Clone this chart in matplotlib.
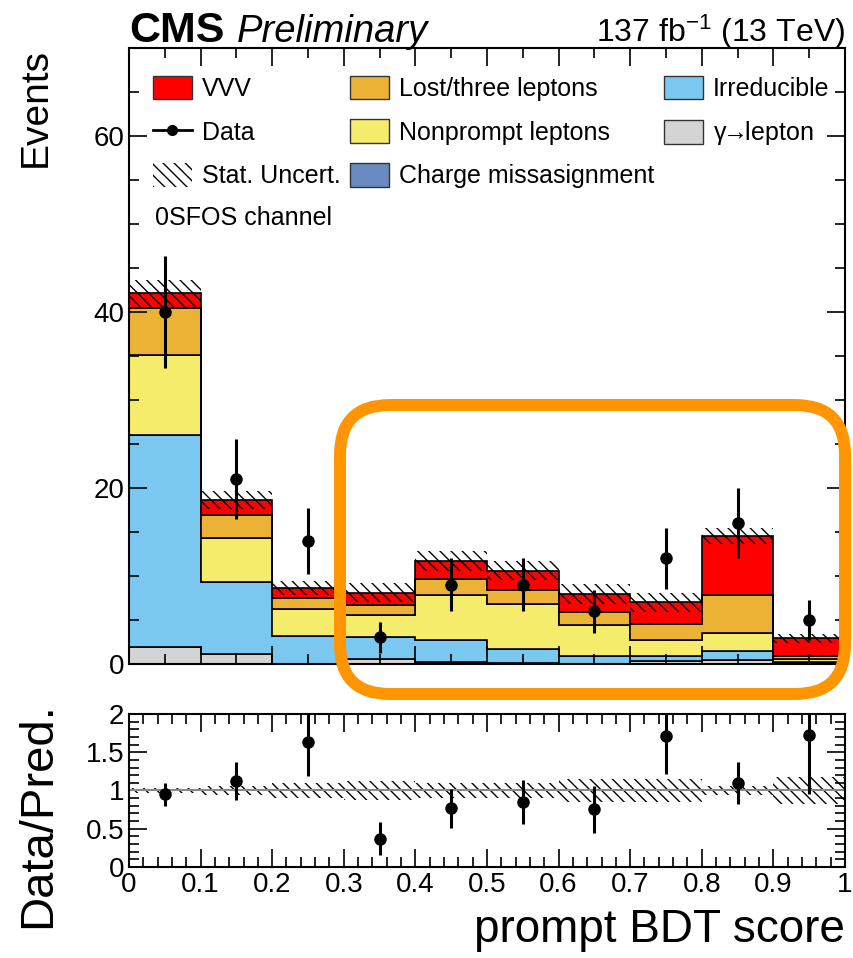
import numpy as np
import matplotlib
matplotlib.use('Agg')
import matplotlib.pyplot as plt
from matplotlib.patches import Patch, FancyBboxPatch
from matplotlib.lines import Line2D
from matplotlib.ticker import MultipleLocator
from matplotlib.transforms import IdentityTransform

plt.rcParams['font.family'] = ['Liberation Sans', 'DejaVu Sans']
plt.rcParams['mathtext.fontset'] = 'custom'
plt.rcParams['mathtext.rm'] = 'Liberation Sans'
plt.rcParams['mathtext.it'] = 'Liberation Sans:italic'
plt.rcParams['hatch.linewidth'] = 1.0

# bins of the prompt BDT score
edges = np.linspace(0, 1, 11)
centers = 0.5 * (edges[1:] + edges[:-1])

# background / signal yields per bin (stack order bottom -> top)
gamma_lep = [1.9, 1.15, 0.0, 0.6, 0.2, 0.1, 0.0, 0.35, 0.45, 0.1]
charge_mis = [0, 0, 0, 0, 0, 0, 0, 0, 0, 0]
irreducible = [24.1, 8.2, 3.15, 2.4, 2.5, 1.6, 0.95, 0.6, 1.05, 0.1]
nonprompt = [9.1, 5.0, 3.1, 2.55, 5.1, 5.05, 3.5, 1.8, 2.05, 0.35]
lost_three = [5.3, 2.6, 1.25, 1.15, 1.9, 1.65, 1.4, 1.75, 4.25, 0.35]
vvv = [1.7, 1.7, 1.1, 1.4, 2.0, 2.2, 2.1, 2.5, 6.75, 2.0]
stat_unc = [1.5, 1.0, 0.8, 1.05, 1.1, 1.1, 1.15, 1.05, 0.9, 0.5]
data = [40, 21, 14, 3, 9, 9, 6, 12, 16, 5]

gam_label = '\u03b3$\\!\\!\\rightarrow\\!\\!$lepton'
stack = [
    (gamma_lep, '#d4d4d4', gam_label),
    (charge_mis, '#698bbf', 'Charge missasignment'),
    (irreducible, '#7ac7f0', 'Irreducible'),
    (nonprompt, '#f5ec6b', 'Nonprompt leptons'),
    (lost_three, '#ebb235', 'Lost/three leptons'),
    (vvv, '#ff0000', 'VVV'),
]

fig = plt.figure(figsize=(8.54, 9.58), dpi=100)
ax = fig.add_axes([0.151, 0.307, 0.8384, 0.643])
rax = fig.add_axes([0.151, 0.095, 0.8384, 0.1597])

bottom = np.zeros(10)
for vals, col, lab in stack:
    top = bottom + np.array(vals)
    ax.stairs(top, edges, baseline=bottom, fill=True, facecolor=col,
              edgecolor='black', linewidth=1.2)
    bottom = top
total = bottom
unc = np.array(stat_unc)

ax.stairs(total + unc, edges, baseline=total - unc, fill=True, facecolor='none',
          edgecolor='black', hatch='\\\\\\', linewidth=0)

data = np.array(data, dtype=float)
derr = np.sqrt(data)
ax.errorbar(centers, data, yerr=derr, fmt='o', color='black', ms=8,
            elinewidth=2.2, capsize=0, zorder=5)

ax.set_xlim(0, 1)
ax.set_ylim(0, 70)
ax.xaxis.set_major_locator(MultipleLocator(0.1))
ax.xaxis.set_minor_locator(MultipleLocator(0.05))
ax.yaxis.set_major_locator(MultipleLocator(20))
ax.yaxis.set_minor_locator(MultipleLocator(5))
ax.tick_params(which='both', direction='in', top=True, right=True, labelsize=20)
ax.tick_params(which='major', length=13, width=1.2)
ax.tick_params(which='minor', length=7, width=1.2)
ax.tick_params(axis='x', labelbottom=False)
for s in ax.spines.values():
    s.set_linewidth(1.5)

# legend, filled row by row like the original
h = {}
for vals, col, lab in stack:
    h[lab] = Patch(facecolor=col, edgecolor='#333333', linewidth=1)
h['Data'] = Line2D([], [], color='black', marker='o', ms=7, lw=2)
h['Stat. Uncert.'] = Patch(facecolor='none', edgecolor='black', hatch='\\\\\\', linewidth=0)
order = ['VVV', 'Data', 'Stat. Uncert.',
         'Lost/three leptons', 'Nonprompt leptons', 'Charge missasignment',
         'Irreducible', gam_label]
ax.legend([h[k] for k in order], order, ncol=3, loc='upper left',
          bbox_to_anchor=(0.0335, 0.955), frameon=False, fontsize=18,
          borderpad=0, borderaxespad=0, handlelength=1.55, handleheight=1.05,
          handletextpad=0.4, labelspacing=0.75, columnspacing=0.4)

ax.text(0.036, 0.724, '0SFOS channel', transform=ax.transAxes, fontsize=18,
        va='center', ha='left')

# ratio panel
ratio = data / total
rerr = derr / total
rax.stairs(1 + unc / total, edges, baseline=1 - unc / total, fill=True,
           facecolor='none', edgecolor='black', hatch='\\\\\\', linewidth=0)
rax.axhline(1, color='#888888', lw=1.5)
rax.errorbar(centers, ratio, yerr=rerr, fmt='o', color='black', ms=8,
             elinewidth=2.2, capsize=0, zorder=5)
rax.set_xlim(0, 1)
rax.set_ylim(0, 2)
rax.xaxis.set_minor_locator(MultipleLocator(0.02))
rax.yaxis.set_minor_locator(MultipleLocator(0.1))
rax.set_xticks(np.linspace(0, 1, 11))
rax.set_xticklabels(['0', '0.1', '0.2', '0.3', '0.4', '0.5', '0.6', '0.7', '0.8', '0.9', '1'])
rax.set_yticks([0, 0.5, 1, 1.5, 2])
rax.set_yticklabels(['0', '0.5', '1', '1.5', '2'])
rax.tick_params(which='both', direction='in', top=True, right=True, labelsize=20)
rax.tick_params(which='major', length=13, width=1.2)
rax.tick_params(which='minor', length=7, width=1.2)
for s in rax.spines.values():
    s.set_linewidth(1.5)

# titles and axis labels
fig.text(0.151, 1 - 42 / 958, 'CMS', fontsize=31, fontweight='bold', va='baseline')
fig.text(0.2775, 1 - 42 / 958, 'Preliminary', fontsize=27.5, style='italic', va='baseline')
fig.text(0.9895, 1 - 42 / 958, '137 fb$^{-1}$ (13 TeV)', fontsize=23, ha='right', va='baseline')
fig.text(0.042, 1 - 48 / 958, 'Events', fontsize=28, rotation=90, ha='center', va='top')
fig.text(0.045, 1 - 815 / 958, 'Data/Pred.', fontsize=34, rotation=90, ha='center', va='center')
fig.text(0.9895, 1 - 942 / 958, 'prompt BDT score', fontsize=33, ha='right', va='baseline')

# orange highlight box
box = FancyBboxPatch((340, 958 - 694), 505, 289, boxstyle='round,pad=0,rounding_size=50',
                     transform=IdentityTransform(), facecolor='none',
                     edgecolor='#ff9500', linewidth=8.6, zorder=10)
fig.add_artist(box)

fig.savefig('out.png', dpi=100)
